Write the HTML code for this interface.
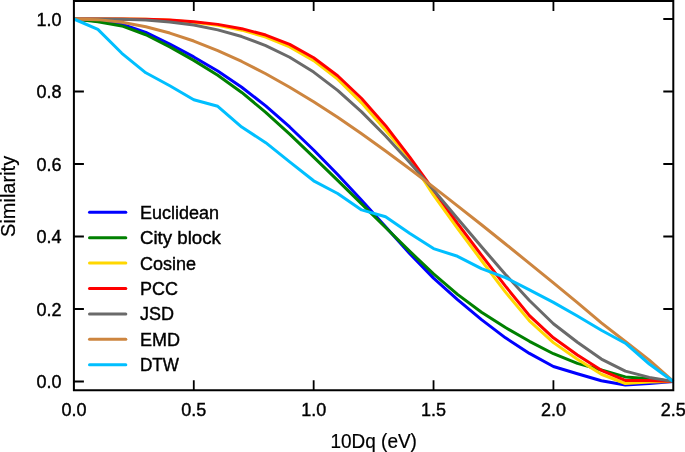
<!DOCTYPE html>
<html><head><meta charset="utf-8"><style>
html,body{margin:0;padding:0;background:#fff;width:685px;height:452px;overflow:hidden}
svg{display:block;will-change:transform}
</style></head><body>
<svg width="685" height="452" viewBox="0 0 685 452"><rect x="0" y="0" width="685" height="452" fill="#fff"/>
<g stroke="#000" fill="none">
<path d="M193.78,390.2 V380.2 M193.78,0.9 V10.9 M313.66,390.2 V380.2 M313.66,0.9 V10.9 M433.54,390.2 V380.2 M433.54,0.9 V10.9 M553.42,390.2 V380.2 M553.42,0.9 V10.9 M73.9,381.50 H83.9 M673.3,381.50 H663.3 M73.9,309.00 H83.9 M673.3,309.00 H663.3 M73.9,236.50 H83.9 M673.3,236.50 H663.3 M73.9,164.00 H83.9 M673.3,164.00 H663.3 M73.9,91.50 H83.9 M673.3,91.50 H663.3 M73.9,19.00 H83.9 M673.3,19.00 H663.3" stroke-width="1.8"/>
</g>
<g fill="none" stroke-width="3.00" stroke-linejoin="round" stroke-linecap="butt">
<path d="M73.90,19.00 L97.88,20.97 L121.85,24.18 L145.83,32.40 L169.80,44.09 L193.78,56.93 L217.76,71.06 L241.73,87.20 L265.71,105.90 L289.68,126.96 L313.66,149.98 L337.64,174.56 L361.61,200.31 L385.59,226.84 L409.56,253.42 L433.54,278.09 L457.52,299.53 L481.49,319.64 L505.47,337.86 L529.44,353.44 L553.42,366.46 L577.40,373.69 L601.37,380.69 L625.35,384.96 L649.32,383.58 L673.30,381.48" stroke="#0000ff"/>
<path d="M73.90,19.00 L97.88,21.68 L121.85,25.91 L145.83,34.78 L169.80,46.93 L193.78,60.36 L217.76,75.29 L241.73,92.45 L265.71,112.29 L289.68,134.17 L313.66,157.14 L337.64,180.45 L361.61,203.92 L385.59,227.55 L409.56,251.14 L433.54,273.79 L457.52,294.40 L481.49,312.18 L505.47,327.57 L529.44,341.32 L553.42,353.72 L577.40,363.33 L601.37,369.96 L625.35,376.89 L649.32,378.65 L673.30,381.49" stroke="#008000"/>
<path d="M73.90,19.00 L97.88,18.99 L121.85,18.98 L145.83,19.28 L169.80,20.23 L193.78,22.14 L217.76,25.34 L241.73,30.16 L265.71,37.04 L289.68,46.85 L313.66,60.61 L337.64,79.17 L361.61,102.83 L385.59,130.19 L409.56,158.44 L433.54,195.09 L457.52,228.29 L481.49,260.50 L505.47,292.14 L529.44,320.83 L553.42,342.62 L577.40,359.29 L601.37,374.26 L625.35,383.50 L649.32,381.98 L673.30,381.50" stroke="#ffd700"/>
<path d="M73.90,19.00 L97.88,18.89 L121.85,18.92 L145.83,19.27 L169.80,20.11 L193.78,21.68 L217.76,24.38 L241.73,28.65 L265.71,35.04 L289.68,44.42 L313.66,57.74 L337.64,75.78 L361.61,98.51 L385.59,125.70 L409.56,156.83 L433.54,190.11 L457.52,223.42 L481.49,255.21 L505.47,286.16 L529.44,315.60 L553.42,337.79 L577.40,354.97 L601.37,370.35 L625.35,380.43 L649.32,380.61 L673.30,381.47" stroke="#ff0000"/>
<path d="M73.90,19.00 L97.88,18.93 L121.85,19.17 L145.83,20.07 L169.80,21.93 L193.78,25.09 L217.76,29.85 L241.73,36.56 L265.71,45.54 L289.68,57.23 L313.66,72.09 L337.64,90.41 L361.61,111.87 L385.59,136.00 L409.56,162.27 L433.54,189.99 L457.52,218.41 L481.49,246.80 L505.47,274.40 L529.44,300.49 L553.42,323.73 L577.40,342.31 L601.37,359.10 L625.35,371.14 L649.32,377.40 L673.30,381.48" stroke="#6a6a6a"/>
<path d="M73.90,19.00 L97.88,19.63 L121.85,22.26 L145.83,26.78 L169.80,33.07 L193.78,41.03 L217.76,50.53 L241.73,61.47 L265.71,73.73 L289.68,87.21 L313.66,101.78 L337.64,117.34 L361.61,133.77 L385.59,150.95 L409.56,168.79 L433.54,187.12 L457.52,205.83 L481.49,224.79 L505.47,243.97 L529.44,263.38 L553.42,282.91 L577.40,302.56 L601.37,322.89 L625.35,341.53 L649.32,360.09 L673.30,381.47" stroke="#cd853f"/>
<path d="M73.90,19.00 L97.88,29.40 L121.85,53.30 L145.83,72.80 L169.80,85.80 L193.78,99.80 L217.76,106.30 L241.73,127.10 L265.71,142.70 L289.68,161.80 L313.66,180.80 L337.64,193.50 L361.61,209.90 L385.59,216.70 L409.56,233.20 L433.54,248.60 L457.52,256.30 L481.49,268.70 L505.47,277.60 L529.44,289.90 L553.42,302.40 L577.40,316.00 L601.37,330.20 L625.35,343.20 L649.32,364.00 L673.30,381.50" stroke="#00bfff"/>
</g>
<g stroke="#000" fill="none">
<path d="M73.9,0.9 H673.3 V390.2 H73.9 Z" stroke-width="2.0" stroke-linejoin="miter"/>
</g>
<g font-family="Liberation Sans, sans-serif" font-size="18" fill="#000" stroke="#000" stroke-width="0.4">
<text x="61.5" y="388.00" text-anchor="end">0.0</text>
<text x="61.5" y="315.50" text-anchor="end">0.2</text>
<text x="61.5" y="243.00" text-anchor="end">0.4</text>
<text x="61.5" y="170.50" text-anchor="end">0.6</text>
<text x="61.5" y="98.00" text-anchor="end">0.8</text>
<text x="61.5" y="25.50" text-anchor="end">1.0</text>
<text x="73.90" y="415.5" text-anchor="middle">0.0</text>
<text x="193.78" y="415.5" text-anchor="middle">0.5</text>
<text x="313.66" y="415.5" text-anchor="middle">1.0</text>
<text x="433.54" y="415.5" text-anchor="middle">1.5</text>
<text x="553.42" y="415.5" text-anchor="middle">2.0</text>
<text x="673.30" y="415.5" text-anchor="middle">2.5</text>
<text x="373.7" y="448" font-size="20" stroke-width="0.2" text-anchor="middle" textLength="86.5" lengthAdjust="spacingAndGlyphs">10Dq (eV)</text>
<text transform="translate(14.6,196.4) rotate(-90)" font-size="20" stroke-width="0.2" text-anchor="middle">Similarity</text>
<line x1="89.5" y1="212.30" x2="125.8" y2="212.30" stroke="#0000ff" stroke-width="3.0" stroke-linecap="round"/>
<text x="140" y="218.80">Euclidean</text>
<line x1="89.5" y1="237.70" x2="125.8" y2="237.70" stroke="#008000" stroke-width="3.0" stroke-linecap="round"/>
<text x="140" y="244.20" textLength="80.9" lengthAdjust="spacingAndGlyphs">City block</text>
<line x1="89.5" y1="263.10" x2="125.8" y2="263.10" stroke="#ffd700" stroke-width="3.0" stroke-linecap="round"/>
<text x="140" y="269.60">Cosine</text>
<line x1="89.5" y1="288.50" x2="125.8" y2="288.50" stroke="#ff0000" stroke-width="3.0" stroke-linecap="round"/>
<text x="140" y="295.00">PCC</text>
<line x1="89.5" y1="313.90" x2="125.8" y2="313.90" stroke="#6a6a6a" stroke-width="3.0" stroke-linecap="round"/>
<text x="140" y="320.40">JSD</text>
<line x1="89.5" y1="339.30" x2="125.8" y2="339.30" stroke="#cd853f" stroke-width="3.0" stroke-linecap="round"/>
<text x="140" y="345.80">EMD</text>
<line x1="89.5" y1="364.70" x2="125.8" y2="364.70" stroke="#00bfff" stroke-width="3.0" stroke-linecap="round"/>
<text x="140" y="371.20" textLength="39" lengthAdjust="spacingAndGlyphs">DTW</text>
</g></svg>
</body></html>
